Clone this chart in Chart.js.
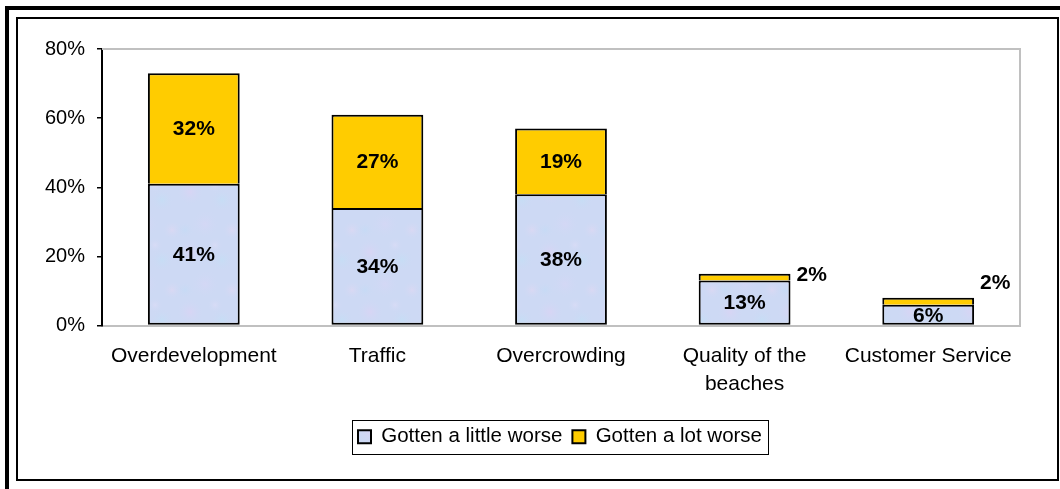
<!DOCTYPE html>
<html>
<head>
<meta charset="utf-8">
<script src="https://cdn.jsdelivr.net/npm/chart.js@4/dist/chart.umd.min.js"></script>
<style>
  html, body { margin: 0; padding: 0; background: #fff; }
  #wrap { width: 1060px; height: 489px; position: relative; }
</style>
</head>
<body>
<div id="wrap"><canvas id="c" width="1060" height="489"></canvas></div>
<script>
const categories = ['Overdevelopment', 'Traffic', 'Overcrowding', ['Quality of the', 'beaches'], 'Customer Service'];
const littleWorse = [41, 34, 38, 13, 6];
const lotWorse = [32, 27, 19, 2, 2];
const seriesNames = ['Gotten a little worse', 'Gotten a lot worse'];
const yTickValues = [0, 20, 40, 60, 80];

const FONT = "'Liberation Sans', Arial, Helvetica, sans-serif";
const GOLD = '#ffcc00';
// style: vertical offsets (px) for labels placed beside thin segments
const outsideLabelDy = [0, 0, 0, 2, -15];

// soft blue/lavender texture (fixed blotch layout, purely decorative)
function makeBlueFill() {
  const c = document.createElement('canvas');
  c.width = 60; c.height = 60;
  const g = c.getContext('2d');
  g.fillStyle = '#cdd9f4';
  g.fillRect(0, 0, 60, 60);
  const blotches = [
    [10, 12, 14, 'rgba(222,210,244,0.6)'],
    [42, 20, 12, 'rgba(194,224,246,0.6)'],
    [25, 44, 15, 'rgba(218,214,246,0.5)'],
    [52, 50, 10, 'rgba(230,216,242,0.5)'],
    [5, 50, 9, 'rgba(192,220,246,0.5)'],
    [35, 5, 8, 'rgba(226,222,248,0.5)']
  ];
  blotches.forEach(([x, y, r, col]) => {
    for (const dx of [-60, 0, 60]) for (const dy of [-60, 0, 60]) {
      const gr = g.createRadialGradient(x + dx, y + dy, 0, x + dx, y + dy, r);
      gr.addColorStop(0, col);
      gr.addColorStop(1, 'rgba(205,217,244,0)');
      g.fillStyle = gr;
      g.fillRect(x + dx - r, y + dy - r, 2 * r, 2 * r);
    }
  });
  return g.createPattern(c, 'repeat');
}
const BLUE = makeBlueFill();

const framePlugin = {
  id: 'frame',
  afterLayout(chart) {
    // shift the legend block so it is centred under the plot the way the original is
    const lg = chart.legend;
    if (lg) { lg.left += 40; lg.right += 40; }
  },
  beforeDraw(chart) {
    const ctx = chart.ctx;
    ctx.save();
    ctx.fillStyle = '#fff';
    ctx.fillRect(0, 0, chart.width, chart.height);
    ctx.fillStyle = '#000';
    ctx.fillRect(5, 6, 1055, 4);     // outer thick top
    ctx.fillRect(5, 6, 4, 483);      // outer thick left
    ctx.strokeStyle = '#000';
    ctx.lineWidth = 2;
    ctx.strokeRect(17, 18, 1041, 462); // inner frame
    ctx.restore();
  },
  beforeDatasetsDraw(chart) {
    const {ctx, chartArea: a} = chart;
    ctx.save();
    ctx.strokeStyle = '#c0c0c0';
    ctx.lineWidth = 2;
    ctx.beginPath();
    ctx.moveTo(a.left, a.top);
    ctx.lineTo(a.right, a.top);
    ctx.lineTo(a.right, a.bottom);
    ctx.stroke();
    ctx.restore();
  },
  afterDraw(chart) {
    const hb = chart.legend && chart.legend.legendHitBoxes;
    if (!hb || !hb.length) return;
    const ctx = chart.ctx;
    const l = Math.min(...hb.map(h => h.left)) - 6;
    const r = Math.max(...hb.map(h => h.left + h.width)) + 6;
    const t = hb[0].top - 7;
    const b = hb[0].top + hb[0].height + 6;
    ctx.save();
    ctx.strokeStyle = '#000';
    ctx.lineWidth = 1;
    ctx.strokeRect(Math.round(l) + 0.5, Math.round(t) + 0.5, Math.round(r - l), Math.round(b - t));
    ctx.restore();
  }
};

const labelPlugin = {
  id: 'barLabels',
  afterDatasetsDraw(chart) {
    const ctx = chart.ctx;
    ctx.save();
    ctx.font = 'bold 21px ' + FONT;
    ctx.fillStyle = '#000';
    chart.data.datasets.forEach((ds, di) => {
      const meta = chart.getDatasetMeta(di);
      meta.data.forEach((el, i) => {
        const v = ds.data[i];
        const txt = v + '%';
        const h = Math.abs(el.base - el.y);
        ctx.textBaseline = 'middle';
        if (h >= 18) {
          ctx.textAlign = 'center';
          ctx.fillText(txt, el.x, (el.y + el.base) / 2 + 1);
        } else {
          ctx.textAlign = 'left';
          ctx.fillText(txt, el.x + el.width / 2 + 6, el.y + outsideLabelDy[i]);
        }
      });
    });
    ctx.restore();
  }
};

new Chart(document.getElementById('c'), {
  type: 'bar',
  data: {
    labels: categories,
    datasets: [
      { label: seriesNames[0], data: littleWorse, backgroundColor: BLUE, borderColor: '#000', borderWidth: 2, borderSkipped: false },
      { label: seriesNames[1], data: lotWorse, backgroundColor: GOLD, borderColor: '#000', borderWidth: 2, borderSkipped: 'start' }
    ]
  },
  options: {
    responsive: false,
    animation: false,
    devicePixelRatio: 1,
    layout: { padding: { left: 20, right: 40, top: 49, bottom: 32 } },
    datasets: { bar: { categoryPercentage: 1, barPercentage: 0.5 } },
    scales: {
      x: {
        stacked: true,
        grid: { display: false },
        border: { color: '#c0c0c0', width: 2 },
        ticks: {
          color: '#000', font: { family: FONT, size: 21, lineHeight: 1.33 },
          padding: 9, maxRotation: 0, autoSkip: false
        },
        afterFit(s) { s.height = 91; }
      },
      y: {
        stacked: true,
        min: 0, max: 80,
        afterBuildTicks(s) { s.ticks = yTickValues.map(v => ({ value: v })); },
        ticks: {
          color: '#000', font: { family: FONT, size: 20 }, padding: 12,
          callback: v => v + '%'
        },
        grid: { drawOnChartArea: false, drawTicks: true, tickLength: 5, color: '#000', lineWidth: 1.5 },
        border: { color: '#000', width: 2 },
        afterFit(s) { s.width = 82; }
      }
    },
    plugins: {
      legend: {
        position: 'bottom',
        labels: {
          color: '#000', font: { family: FONT, size: 20.5 },
          boxWidth: 13, boxHeight: 13, padding: 10
        }
      },
      tooltip: { enabled: false }
    }
  },
  plugins: [framePlugin, labelPlugin]
});
</script>
</body>
</html>
